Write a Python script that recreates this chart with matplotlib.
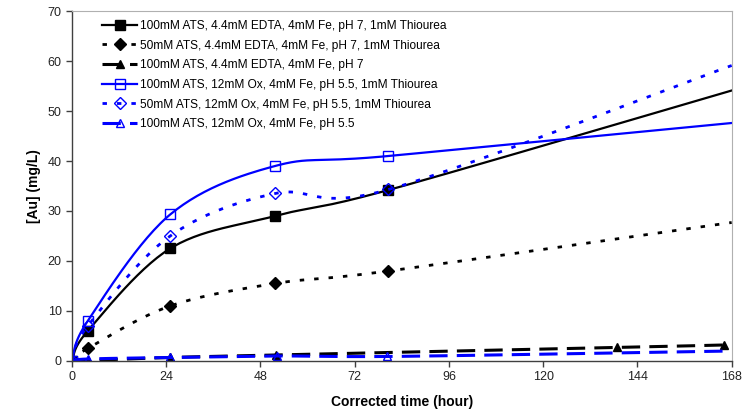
import numpy as np
import matplotlib.pyplot as plt

plt.rcParams['font.family'] = ['Liberation Sans', 'DejaVu Sans']

# time (hours) and gold concentration [Au] (mg/L) for each leach test
t_edta = [0, 4, 25, 51.7, 80.6, 168]
au_edta_100 = [0, 6.0, 22.5, 29.0, 34.2, 54.1]
au_edta_50 = [0, 2.5, 11.0, 15.5, 18.0, 27.7]

t_edta_nothio = [0, 4, 25, 52, 138.8, 166]
au_edta_nothio = [0, 0.1, 0.7, 1.2, 2.7, 3.2]

t_ox = [0, 4, 25, 51.7, 80.6, 168]
au_ox_100 = [0, 8.0, 29.3, 39.0, 41.0, 47.6]
au_ox_50 = [0, 7.0, 25.0, 33.5, 34.3, 59.1]

t_ox_nothio = [0, 4, 25, 52.2, 80.3, 138, 168]
au_ox_nothio = [0, 0.4, 0.7, 1.0, 0.9, 1.6, 2.0]

labels = [
    "100mM ATS, 4.4mM EDTA, 4mM Fe, pH 7, 1mM Thiourea",
    "50mM ATS, 4.4mM EDTA, 4mM Fe, pH 7, 1mM Thiourea",
    "100mM ATS, 4.4mM EDTA, 4mM Fe, pH 7",
    "100mM ATS, 12mM Ox, 4mM Fe, pH 5.5, 1mM Thiourea",
    "50mM ATS, 12mM Ox, 4mM Fe, pH 5.5, 1mM Thiourea",
    "100mM ATS, 12mM Ox, 4mM Fe, pH 5.5",
]
xticks = [0, 24, 48, 72, 96, 120, 144, 168]
yticks = [0, 10, 20, 30, 40, 50, 60, 70]


def smooth(x, y, n=30):
    # spreadsheet style smoothed line: cubic bezier per segment
    x = np.asarray(x, float)
    y = np.asarray(y, float)
    p = np.column_stack([x, y])
    out = [p[0]]
    for i in range(len(p) - 1):
        p0 = p[i - 1] if i > 0 else p[i]
        p1 = p[i]
        p2 = p[i + 1]
        p3 = p[i + 2] if i + 2 < len(p) else p[i + 1]
        c1 = p1 + (p2 - p0) / 6.0
        c2 = p2 - (p3 - p1) / 6.0
        s = np.linspace(0, 1, n)[1:, None]
        seg = ((1 - s) ** 3 * p1 + 3 * (1 - s) ** 2 * s * c1
               + 3 * (1 - s) * s ** 2 * c2 + s ** 3 * p2)
        out.extend(seg)
    out = np.array(out)
    return out[:, 0], out[:, 1]


fig = plt.figure(figsize=(7.47, 4.11), dpi=100)
ax = fig.add_axes([0.0964, 0.1217, 0.8831, 0.8515])

blue = '#0000ff'
dot = (0, (1.6, 3.6))
dash = (0, (6, 3))
# x, y, colour, style, width, marker, face, size, which points carry a marker
series = [
    (t_edta, au_edta_100, 'black', '-', 1.6, 's', 'black', 6.5, slice(0, 5)),
    (t_edta, au_edta_50, 'black', dot, 2.0, 'D', 'black', 6, slice(0, 5)),
    (t_edta_nothio, au_edta_nothio, 'black', dash, 2.2, '^', 'black', 6, slice(0, 6)),
    (t_ox, au_ox_100, blue, '-', 1.6, 's', 'none', 6.5, slice(0, 5)),
    (t_ox, au_ox_50, blue, dot, 2.0, 'D', 'none', 6, slice(0, 5)),
    (t_ox_nothio, au_ox_nothio, blue, dash, 2.2, '^', 'none', 6, slice(0, 5)),
]

for (x, y, c, ls, lw, m, fc, ms, mk), lab in zip(series, labels):
    sx, sy = smooth(x, y)
    ax.plot(sx, sy, color=c, linestyle=ls, linewidth=lw)
    ax.plot(x[mk], y[mk], linestyle='none', marker=m, markersize=ms,
            markerfacecolor=fc, markeredgecolor=c, markeredgewidth=1.0)

# legend handles combine the line style and marker
handles = []
for (x, y, c, ls, lw, m, fc, ms, mk) in series:
    h, = ax.plot([], [], color=c, linestyle=ls, linewidth=lw, marker=m,
                 markersize=ms, markerfacecolor=fc, markeredgecolor=c)
    handles.append(h)
ax.legend(handles, labels, loc='upper left', bbox_to_anchor=(0.035, 0.995),
          frameon=False, fontsize=8.6, handlelength=2.9, handletextpad=0.3,
          labelspacing=0.64, borderaxespad=0.2)

ax.set_xlim(0, 168)
ax.set_ylim(0, 70)
ax.set_xticks(xticks)
ax.set_yticks(yticks)
ax.tick_params(direction='out', length=4, width=1, colors='#404040',
               labelsize=9, labelcolor='#222222')
for s in ['top', 'right']:
    ax.spines[s].set_color('#b0b0b0')
for s in ['left', 'bottom']:
    ax.spines[s].set_color('#404040')
    ax.spines[s].set_linewidth(1.0)

ax.set_xlabel('Corrected time (hour)', fontsize=10, fontweight='bold', labelpad=8)
ax.set_ylabel('[Au] (mg/L)', fontsize=10, fontweight='bold', labelpad=5)

fig.savefig('out.png', dpi=100)
